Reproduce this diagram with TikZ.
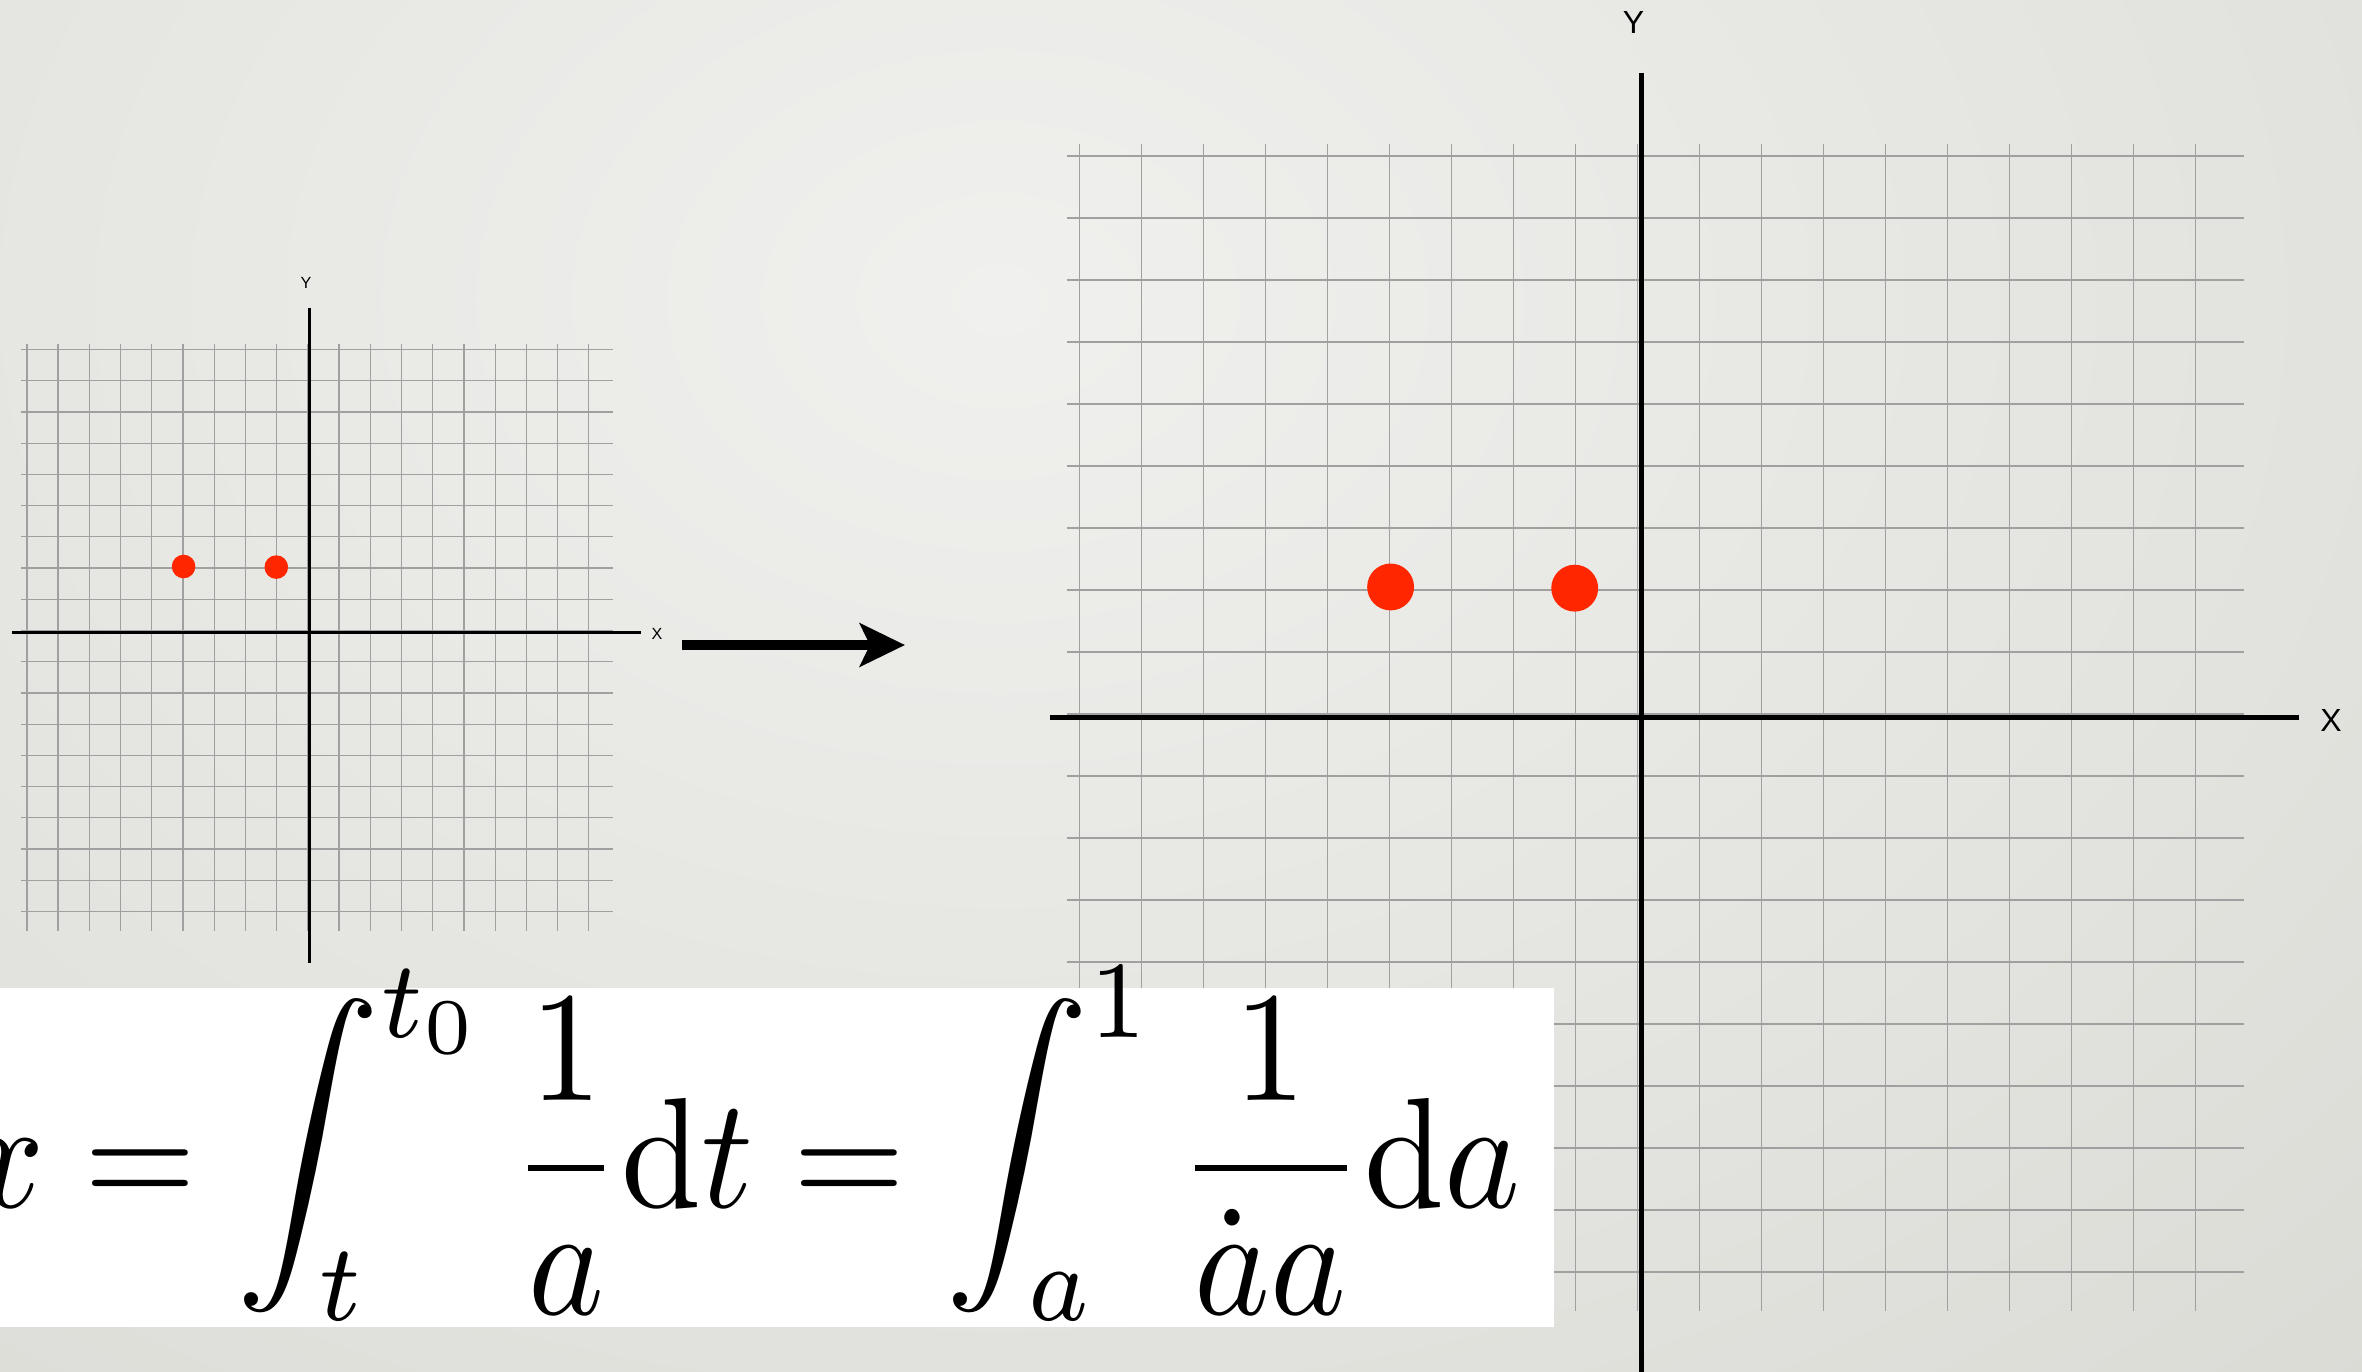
\documentclass[tikz,border=0pt]{standalone}
\usepackage{fontspec}
\usepackage{graphicx}
\newfontfamily\lblfont{Liberation Sans}
\usetikzlibrary{arrows.meta}
\definecolor{bgin}{HTML}{F0F0EE}
\definecolor{bgout}{HTML}{DBDBD6}
\definecolor{gridgray}{HTML}{A0A0A0}
\definecolor{dotred}{HTML}{FF2600}
\tikzset{
  gridline/.style={draw=gridgray},
  axisline/.style={draw=black},
  axislabel/.style={inner sep=0pt, text=black},
  reddot/.style={fill=dotred},
  bigarrow/.style={line width=2.845pt, -{Stealth[length=4.5mm,width=4.3mm,inset=1mm]}},
  formulabox/.style={fill=white},
}
% integral sign slightly shorter than the display one, limits as usual
\newcommand\myint[2]{\mathop{\raisebox{1pt}{\scalebox{1}[0.9]{$\displaystyle\int$}}}\nolimits_{\kern-4.3pt #1}^{#2}}
% #1 prefix, #2 x0, #3 y0, #4 scale, #5 grid lw, #6 axis lw, #7 label size
\newcommand\drawplane[7]{%
  \begin{scope}[shift={(#2,#3)}, scale=#4]
    \foreach \k in {0,...,18}{
      \draw[gridline, line width=#5] ({31.22*\k},-6) -- ({31.22*\k},581.6);
      \draw[gridline, line width=#5] (-6.4,{31.22*\k}) -- (586.2,{31.22*\k});
    }
    \draw[axisline, line width=#6] (282.8,-42) -- (282.8,613);
    \draw[axisline, line width=#6] (-15,282.8) -- (614.3,282.8);
    \node[axislabel, font=\lblfont\fontsize{#7}{#7}\selectfont] (#1Y) at (279,-67) {Y};
    \node[axislabel, font=\lblfont\fontsize{#7}{#7}\selectfont] (#1X) at (630.2,284) {X};
    \fill[reddot] (156.7,217) circle[radius=11.8];
    \fill[reddot] (249.4,217.6) circle[radius=11.8];
  \end{scope}}
\begin{document}
\begin{tikzpicture}[x=0.01cm, y=-0.01cm]
  \useasboundingbox (0,0) rectangle (2362,1372);
  \clip (0,0) rectangle (2362,1372);
  \shade[inner color=bgin, outer color=bgout] (-1000,-1200) rectangle (3000,1800);
  % small plane
  \drawplane{s}{26.9}{349.5}{1}{0.36pt}{0.74pt}{4.6pt}
  % large plane
  \drawplane{b}{1079.4}{156}{1.986}{0.5pt}{1.42pt}{9.1pt}
  % arrow
  \coordinate (arrS) at (681.7,645);
  \coordinate (arrE) at (905,645);
  \draw[bigarrow] (arrS) -- (arrE);
  % formula
  \fill[formulabox] (0,988) rectangle (1554,1327);
  \node[anchor=base east, inner sep=0pt, xscale=4.09, yscale=4.47] (formula) at (1523,1207)
    {$\displaystyle x = \myint{t}{t_0} \frac{1}{a}\mathrm{d}t = \myint{a}{1} \frac{1}{\dot a a}\mathrm{d}a$};
\end{tikzpicture}
\end{document}
